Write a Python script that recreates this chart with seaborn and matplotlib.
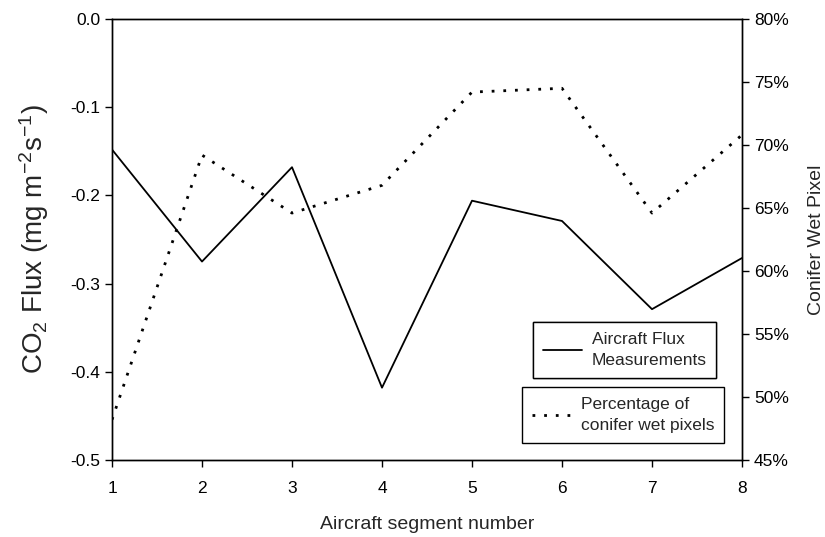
import matplotlib
matplotlib.use("Agg")
import matplotlib.pyplot as plt
import seaborn as sns
import numpy as np
import pandas as pd
from matplotlib.ticker import FuncFormatter
from matplotlib.lines import Line2D

segments = [1, 2, 3, 4, 5, 6, 7, 8]
flux = [-0.148, -0.275, -0.168, -0.418, -0.206, -0.229, -0.329, -0.271]
wet_pct = [48.2, 69.2, 64.6, 66.8, 74.2, 74.5, 64.6, 70.8]

sns.set_theme(style="ticks")
plt.rcParams['font.family'] = ['Liberation Sans', 'DejaVu Sans']
plt.rcParams['mathtext.fontset'] = 'custom'
plt.rcParams['mathtext.rm'] = 'Liberation Sans'
plt.rcParams['mathtext.it'] = 'Liberation Sans'
plt.rcParams['mathtext.default'] = 'regular'

fig = plt.figure(figsize=(8.25, 5.37), dpi=100)
ax = fig.add_axes([112/825, 1 - 460/537, (742-112)/825, (460-19)/537])
ax2 = ax.twinx()

df = pd.DataFrame({"segment": segments, "flux": flux, "wet": wet_pct})
sns.lineplot(data=df, x="segment", y="flux", ax=ax, color="black", linewidth=1.3)
sns.lineplot(data=df, x="segment", y="wet", ax=ax2, color="black", linewidth=2.0,
             linestyle=(0, (1.0, 3.2)))

ax.set_xlim(1, 8)
ax.set_ylim(-0.5, 0.0)
ax.set_yticks([0.0, -0.1, -0.2, -0.3, -0.4, -0.5])
ax.yaxis.set_major_formatter(FuncFormatter(lambda v, p: f"{v:.1f}"))
ax.set_xticks(segments)
ax2.set_ylim(45, 80)
ax2.set_yticks([45, 50, 55, 60, 65, 70, 75, 80])
ax2.yaxis.set_major_formatter(FuncFormatter(lambda v, p: f"{v:.0f}%"))

for a in (ax, ax2):
    a.tick_params(labelsize=12.5, length=5, width=1, colors="black", direction="out")
    for s in a.spines.values():
        s.set_linewidth(1.0)
        s.set_color("black")
ax.tick_params(axis="x", pad=10)

ax.set_xlabel("Aircraft segment number", fontsize=14)
ax.xaxis.set_label_coords(0.5, -0.128)
ax.set_ylabel("CO$_2$ Flux (mg m$^{-2}$s$^{-1}$)", fontsize=20, labelpad=14)
ax2.set_ylabel("Conifer Wet Pixel", fontsize=14, labelpad=14)

h1 = [Line2D([0], [0], color="black", linewidth=1.3)]
h2 = [Line2D([0], [0], color="black", linewidth=2.0, linestyle=(0, (1.0, 3.2)))]
common = dict(loc="upper left", fontsize=12.5, frameon=True, fancybox=False,
              edgecolor="black", framealpha=1, handlelength=2.25,
              handletextpad=0.57, borderpad=0.55, borderaxespad=0)
leg1 = ax.legend(h1, ["Aircraft Flux\nMeasurements"],
                 bbox_to_anchor=((533-112)/630, (460-322)/441), **common)
ax.add_artist(leg1)
leg2 = ax2.legend(h2, ["Percentage of\nconifer wet pixels"],
                  bbox_to_anchor=((522-112)/630, (460-387)/441), **common)
for lg in (leg1, leg2):
    lg.get_frame().set_linewidth(1.0)
    for t in lg.get_texts():
        t.set_linespacing(1.55)

fig.savefig("out.png", dpi=100)
